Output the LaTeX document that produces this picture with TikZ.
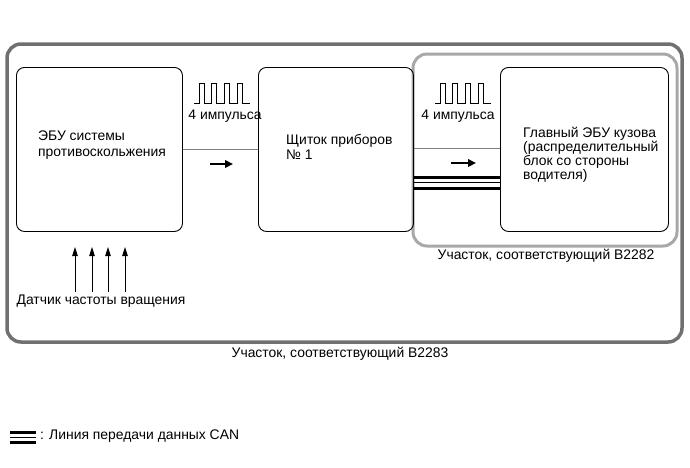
\documentclass[tikz,border=0pt]{standalone}
\usepackage{fontspec}
\setmainfont{Liberation Sans}
\usetikzlibrary{arrows.meta,positioning}
\definecolor{zonedark}{HTML}{707070}
\definecolor{zonelight}{HTML}{A8A8A8}
\definecolor{wiregray}{HTML}{808080}
\tikzset{
  unit/.style={draw,line width=0.9pt,rounded corners=8pt,minimum height=164pt,
    anchor=north west,inner sep=0pt},
  label/.style={anchor=west,align=left,inner sep=0pt},
  flow/.style={line width=2.4pt,-{Triangle[length=8pt,width=7.5pt]}},
  canwire/.style={line width=3pt},
}
\begin{document}
\begin{tikzpicture}[x=1pt,y=-1pt,font=\fontsize{13.9}{16.5}\selectfont]
  \useasboundingbox (0,0) rectangle (690,467);
  % zones
  \draw[zonedark,line width=3.5pt,rounded corners=14pt] (7,44) rectangle (682,342);
  \draw[zonelight,line width=3pt,rounded corners=14pt] (413,54) rectangle (677,246);
  \node (zone83) at (340,354) {Участок, соответствующий B2283};
  \node (zone82) at (546,256) {Участок, соответствующий B2282};
  % units
  \node[unit,minimum width=166pt] (abs) at (16,67) {};
  \node[unit,minimum width=155pt] (meter) at (258,67) {};
  \node[unit,minimum width=168pt] (body) at (500,67) {};
  \node[label] (abstext) at ([xshift=22pt,yshift=4.5pt]abs.west)
    {ЭБУ системы\\противоскольжения};
  \node[label,font=\fontsize{13.9}{15.5}\selectfont] (metertext) at ([xshift=28pt,yshift=2.5pt]meter.west)
    {Щиток приборов\\№ 1};
  \node[label,font=\fontsize{13.9}{14}\selectfont] (bodytext) at ([xshift=23pt,yshift=-5.5pt]body.west)
    {Главный ЭБУ кузова\\(распределительный\\блок со стороны\\водителя)};
  % signal lines
  \draw[wiregray,line width=1.2pt] (abs.east) -- (meter.west);
  \draw[wiregray,line width=1.2pt] ([yshift=1pt]meter.east) -- ([yshift=1pt]body.west);
  \draw[flow] (210,164) -- (233,164);
  \draw[flow] (451,163) -- (476,163);
  % pulses
  \draw[line width=0.8pt] (194,103) -- (199,103)
    \foreach \i in {0,...,3} { -- ++(0,-20) -- ++(5,0) -- ++(0,20) -- ++(7.7,0)};
  \draw[line width=0.8pt] (435,103) -- (440,103)
    \foreach \i in {0,...,3} { -- ++(0,-20) -- ++(5,0) -- ++(0,20) -- ++(7.7,0)};
  \node (pulseA) at (225,116) {4 импульса};
  \node (pulseB) at (458,116) {4 импульса};
  % CAN
  \draw[canwire] ([yshift=-28pt]meter.east) -- ([yshift=-28pt]body.west);
  \draw[line width=1pt] ([yshift=-33.5pt]meter.east) -- ([yshift=-33.5pt]body.west);
  \draw[canwire] ([yshift=-39pt]meter.east) -- ([yshift=-39pt]body.west);
  % sensors
  \node (sensor) at (101,301) {Датчик частоты вращения};
  \foreach \x in {75,92,108,125}
    \draw[line width=1pt,-{Triangle[length=9pt,width=5.5pt]}] (\x,292) -- (\x,247);
  % legend
  \coordinate (legA) at (10,432);
  \coordinate (legB) at (36,432);
  \draw[canwire] (legA) -- (legB);
  \draw[line width=1pt] ([yshift=-5.5pt]legA) -- ([yshift=-5.5pt]legB);
  \draw[canwire] ([yshift=-10pt]legA) -- ([yshift=-10pt]legB);
  \node[label] (legtext) at (40,436) {: Линия передачи данных CAN};
\end{tikzpicture}
\end{document}
